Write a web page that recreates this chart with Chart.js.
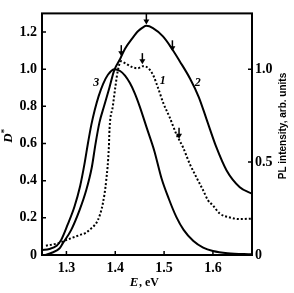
<!DOCTYPE html>
<html>
<head>
<meta charset="utf-8">
<script src="https://cdn.jsdelivr.net/npm/chart.js@4.4.0/dist/chart.umd.min.js"></script>
<style>
html, body { margin: 0; padding: 0; background: #fff; }
canvas { display: block; }
</style>
</head>
<body>
<canvas id="mychart" width="294" height="293"></canvas>
<script>
// curve 1 - PL (dotted)
const e1 = [1.258, 1.2856, 1.2993, 1.3267, 1.34, 1.3507, 1.3643, 1.3745, 1.3815, 1.3869, 1.3883, 1.395, 1.4, 1.405, 1.412, 1.419, 1.436, 1.446, 1.457, 1.467, 1.477, 1.4875, 1.498, 1.5115, 1.525, 1.5388, 1.5526, 1.566, 1.58, 1.59, 1.6, 1.614, 1.6347, 1.655, 1.68];
const v1 = [0.05, 0.065, 0.08, 0.107, 0.12, 0.143, 0.187, 0.276, 0.401, 0.579, 0.68, 0.80, 0.9, 0.989, 1.043, 1.034, 1.01, 1.005, 1.016, 1.007, 0.971, 0.9, 0.82, 0.74, 0.651, 0.579, 0.49, 0.419, 0.348, 0.294, 0.267, 0.223, 0.202, 0.193, 0.196];

// curve 2
const e2 = [1.257, 1.27, 1.2856, 1.2924, 1.3096, 1.3267, 1.3405, 1.352, 1.3595, 1.3678, 1.377, 1.388, 1.398, 1.41, 1.42, 1.436, 1.447, 1.4567, 1.4636, 1.4772, 1.4977, 1.515, 1.532, 1.553, 1.571, 1.587, 1.607, 1.628, 1.655, 1.68];
const v2 = [0.0, 0.012, 0.035, 0.0625, 0.134, 0.24, 0.348, 0.472, 0.597, 0.715, 0.80, 0.90, 0.995, 1.055, 1.11, 1.17, 1.205, 1.225, 1.233, 1.221, 1.176, 1.114, 1.043, 0.95, 0.85, 0.73, 0.58, 0.455, 0.365, 0.33];

// curve 3
const e3 = [1.25, 1.265, 1.28, 1.289, 1.3027, 1.3164, 1.328, 1.337, 1.344, 1.351, 1.358, 1.366, 1.375, 1.385, 1.3986, 1.41, 1.42, 1.43, 1.44, 1.45, 1.465, 1.48, 1.495, 1.51, 1.525, 1.54, 1.56, 1.58, 1.6, 1.63, 1.68];
const v3 = [0.027, 0.032, 0.05, 0.08, 0.165, 0.26, 0.37, 0.49, 0.60, 0.70, 0.78, 0.855, 0.92, 0.97, 1.0, 0.99, 0.965, 0.925, 0.87, 0.80, 0.68, 0.56, 0.41, 0.30, 0.205, 0.135, 0.075, 0.04, 0.022, 0.01, 0.004];

const xTicks = [1.3, 1.4, 1.5, 1.6];
const yTicks = [0, 0.2, 0.4, 0.6, 0.8, 1.0, 1.2];
const y2Ticks = [0, 0.5, 1.0];

// arrows (tip positions) and curve numbers
const arrowE = [1.4637, 1.4123, 1.517, 1.4555, 1.5306];
const arrowV = [1.24, 1.07, 1.096, 1.027, 0.626];
const curveLabels = ['1', '2', '3'];
const labelE = [1.497, 1.569, 1.361];
const labelV = [0.935, 0.925, 0.927];

function toPoints(es, vs) {
    return es.map((e, i) => ({x: e, y: vs[i]}));
}

const tickFont = {family: 'Liberation Serif', weight: 'bold', size: 14};

const frame = {
    id: 'frame',
    afterDraw: (chart) => {
        const {ctx, chartArea: a, scales} = chart;
        ctx.save();
        ctx.strokeStyle = '#000';
        ctx.fillStyle = '#000';
        ctx.lineWidth = 2;
        ctx.strokeRect(a.left, a.top, a.right - a.left, a.bottom - a.top);

        // inward ticks
        ctx.lineWidth = 1.5;
        ctx.beginPath();
        xTicks.forEach(t => {
            const px = scales.x.getPixelForValue(t);
            ctx.moveTo(px, a.bottom); ctx.lineTo(px, a.bottom - 4);
        });
        yTicks.forEach(t => {
            const py = scales.y.getPixelForValue(t);
            ctx.moveTo(a.left, py); ctx.lineTo(a.left + 4, py);
        });
        y2Ticks.forEach(t => {
            const py = scales.y2.getPixelForValue(t);
            ctx.moveTo(a.right, py); ctx.lineTo(a.right - 4, py);
        });
        ctx.stroke();

        // arrows
        arrowE.forEach((e, i) => {
            const px = scales.x.getPixelForValue(e);
            const py = scales.y.getPixelForValue(arrowV[i]);
            ctx.lineWidth = 1.5;
            ctx.beginPath();
            ctx.moveTo(px, py - 11);
            ctx.lineTo(px, py - 4);
            ctx.stroke();
            ctx.beginPath();
            ctx.moveTo(px - 3, py - 5);
            ctx.lineTo(px + 3, py - 5);
            ctx.lineTo(px, py);
            ctx.closePath();
            ctx.fill();
        });

        // curve numbers
        ctx.font = 'italic bold 12px "Liberation Serif"';
        ctx.textAlign = 'center';
        ctx.textBaseline = 'middle';
        curveLabels.forEach((s, i) => {
            ctx.fillText(s, scales.x.getPixelForValue(labelE[i]), scales.y.getPixelForValue(labelV[i]));
        });

        // axis titles
        ctx.font = 'italic bold 13px "Liberation Serif"';
        ctx.fillText('E', 134, 283);
        ctx.font = 'bold 12px "Liberation Serif"';
        ctx.textAlign = 'left';
        ctx.fillText(', eV', 139, 283);

        ctx.save();
        ctx.translate(9, 136);
        ctx.rotate(-Math.PI / 2);
        ctx.textAlign = 'center';
        ctx.font = 'italic bold 13px "Liberation Serif"';
        ctx.fillText('D', -2, 0);
        ctx.font = 'bold 9px "Liberation Serif"';
        ctx.fillText('*', 5, -4);
        ctx.restore();

        ctx.save();
        ctx.translate(283, 126);
        ctx.rotate(-Math.PI / 2);
        ctx.textAlign = 'center';
        ctx.font = 'bold 10px "Liberation Sans"';
        ctx.fillText('PL intensity, arb. units', 0, 0);
        ctx.restore();

        ctx.restore();
    }
};

const lineStyle = {
    borderColor: '#000',
    borderWidth: 2,
    pointRadius: 0,
    fill: false,
    cubicInterpolationMode: 'monotone'
};

const options = {
    type: 'line',
    data: {
        datasets: [
            Object.assign({label: '1', data: toPoints(e1, v1), borderDash: [2, 2]}, lineStyle),
            Object.assign({label: '2', data: toPoints(e2, v2)}, lineStyle),
            Object.assign({label: '3', data: toPoints(e3, v3)}, lineStyle)
        ]
    },
    options: {
        responsive: false,
        maintainAspectRatio: false,
        animation: false,
        layout: {padding: {top: 12, left: 0, right: 0, bottom: 0}},
        plugins: {legend: {display: false}, tooltip: {enabled: false}},
        scales: {
            x: {
                type: 'linear', min: 1.25, max: 1.68,
                grid: {display: false, drawTicks: false}, border: {display: false},
                afterBuildTicks: s => { s.ticks = xTicks.map(v => ({value: v})); },
                afterFit: s => { s.height = 38; },
                ticks: {color: '#000', font: tickFont, padding: 5, maxRotation: 0, callback: v => v.toFixed(1)}
            },
            y: {
                type: 'linear', position: 'left', min: 0, max: 1.3,
                grid: {display: false, drawTicks: false}, border: {display: false},
                afterBuildTicks: s => { s.ticks = yTicks.map(v => ({value: v})); },
                afterFit: s => { s.width = 42; },
                ticks: {color: '#000', font: tickFont, padding: 5, callback: v => v === 0 ? '0' : v.toFixed(1)}
            },
            y2: {
                type: 'linear', position: 'right', min: 0, max: 1.3,
                grid: {display: false, drawTicks: false}, border: {display: false},
                afterBuildTicks: s => { s.ticks = y2Ticks.map(v => ({value: v})); },
                afterFit: s => { s.width = 42; },
                ticks: {color: '#000', font: tickFont, padding: 3, callback: v => v === 0 ? '0' : v.toFixed(1)}
            }
        }
    },
    plugins: [frame]
};

const ctx = document.getElementById('mychart').getContext('2d');
const chart = new Chart(ctx, options);
</script>
</body>
</html>
